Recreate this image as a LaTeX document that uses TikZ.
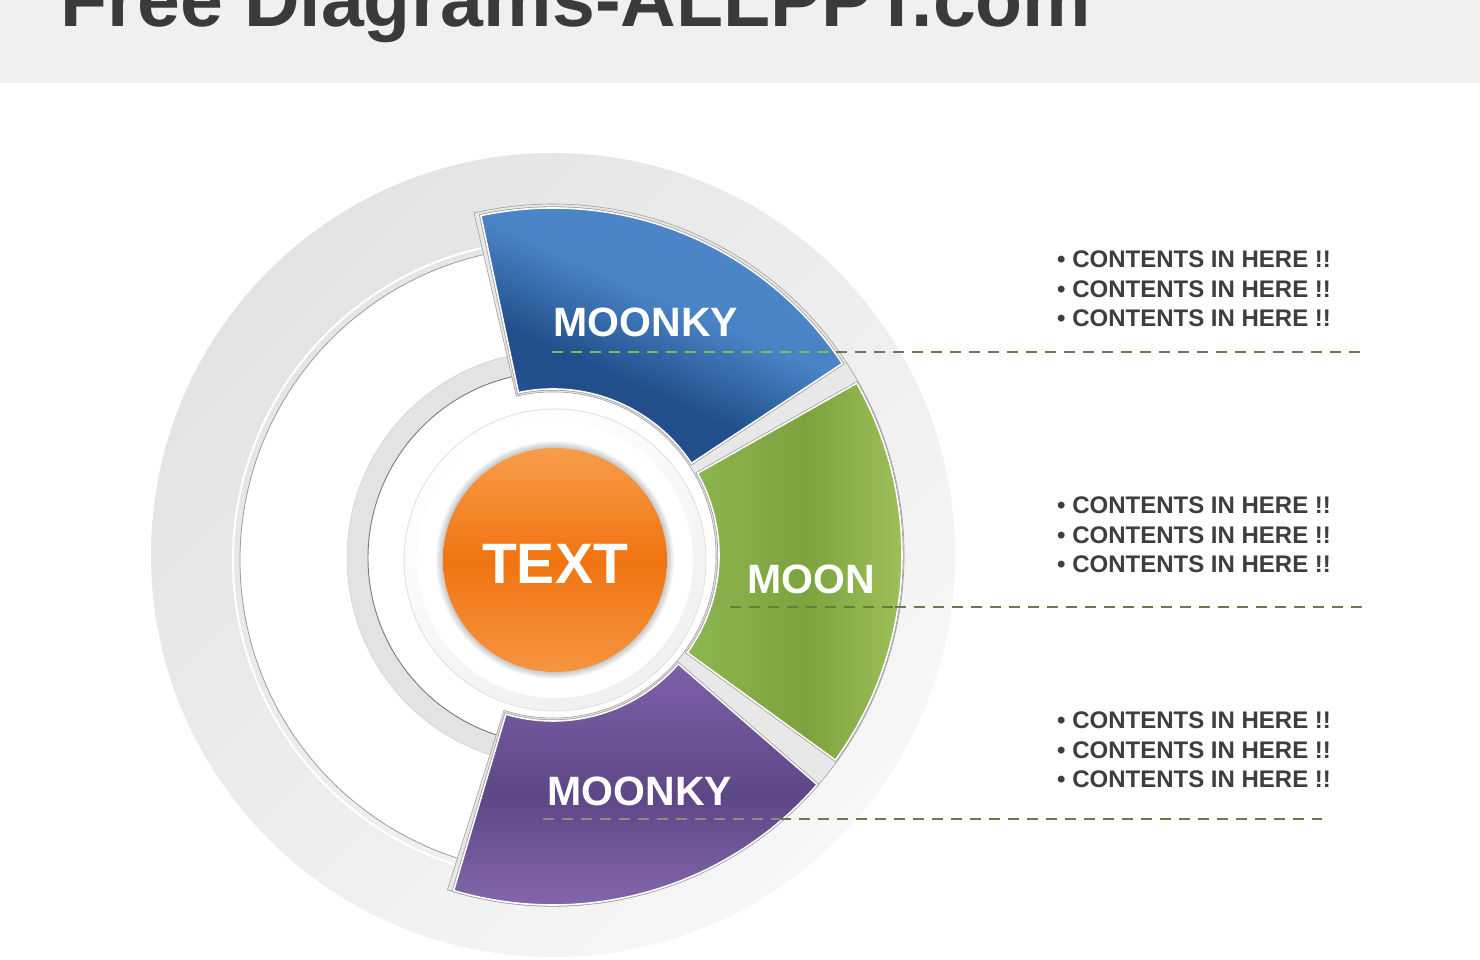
\documentclass[tikz,border=0pt]{standalone}
\usepackage{fontspec}
\setmainfont{Liberation Sans}
\definecolor{hdr}{HTML}{F0F0F0}
\definecolor{titlegray}{HTML}{3A3A3A}
\definecolor{discA}{HTML}{E3E3E3}
\definecolor{discB}{HTML}{F7F7F7}
\definecolor{ringline}{HTML}{9C9C9C}
\definecolor{ringgray}{HTML}{E3E3E3}
\definecolor{darkline}{HTML}{7A7A7A}
\definecolor{gapgray}{HTML}{E8E8E8}
\definecolor{segout}{HTML}{A0A0A0}
\definecolor{blueA}{HTML}{4F89C9}
\definecolor{blueAA}{HTML}{4A84C6}
\definecolor{blueB}{HTML}{224F8C}
\definecolor{blueC}{HTML}{3D74BA}
\definecolor{greenA}{HTML}{8DB650}
\definecolor{greenB}{HTML}{7DA23E}
\definecolor{greenC}{HTML}{A4C65E}
\definecolor{purpA}{HTML}{7C60A9}
\definecolor{purpB}{HTML}{5E4786}
\definecolor{purpC}{HTML}{8A6EB3}
\definecolor{orA}{HTML}{F89D4B}
\definecolor{orB}{HTML}{F07411}
\definecolor{orC}{HTML}{F59540}
\definecolor{txtgray}{HTML}{3E3E3E}
\definecolor{leadout}{HTML}{6F7650}
\definecolor{leadblue}{HTML}{7FBA5A}
\definecolor{leadgreen}{HTML}{5F8236}
\definecolor{leadpurp}{HTML}{8D8C7C}
\pgfdeclareverticalshading{bluesh}{100bp}{color(0bp)=(blueC); color(20bp)=(blueC); color(32bp)=(blueB); color(39bp)=(blueB); color(54bp)=(blueAA); color(100bp)=(blueA)}
\newcommand\annsec[4]{([shift={(#1:#3)}]C) -- ([shift={(#1:#4)}]C) arc[start angle=#1, end angle=#2, radius=#4] -- ([shift={(#2:#3)}]C) arc[start angle=#2, end angle=#1, radius=#3] -- cycle}
\begin{document}
\begin{tikzpicture}[x=1pt,y=1pt,
  seglabel/.style={font=\fontsize{41}{41}\selectfont\bfseries, text=white, inner sep=0},
  txtblock/.style={font=\fontsize{24}{29.3}\selectfont\bfseries, text=txtgray, align=left, inner sep=0, anchor=west},
  lead/.style={line width=2, dash pattern=on 11pt off 8pt},
  segborder/.style={draw=segout, line width=3.2},
  segfill/.style={draw=white, line width=1.6}]
\useasboundingbox (0,0) rectangle (1480,960);
\clip (0,0) rectangle (1480,960);
\fill[white] (0,0) rectangle (1480,960);
% header
\fill[hdr] (0,877) rectangle (1480,960);
\node[anchor=base west, font=\fontsize{77}{80}\selectfont\bfseries, text=titlegray, inner sep=0] (title) at (60,933) {Free Diagrams-ALLPPT.com};

\coordinate (C) at (553,405);
\coordinate (Ci) at (553,400);
\coordinate (Cr) at (554,402);
\coordinate (Co) at (555,400);

% outer disc
\shade[top color=discA, bottom color=discB, shading angle=45] (C) circle (402);
% white interior
\draw[white, line width=2] (Ci) circle (320);
\filldraw[fill=white, draw=ringline, line width=0.8] (Ci) circle (313);
% grey ring
\fill[ringgray] (Cr) circle (207);
\draw[ringgray!80!gray, line width=0.5] (Cr) circle (207);
\fill[white] (Cr) circle (186);
\draw[darkline, line width=0.9] (Cr) circle (186);

% backing for segments
\filldraw[fill=gapgray, draw=segout, line width=0.6] \annsec{-107.5}{103}{163}{351};

% blue
\draw[segborder] \annsec{33.5}{102}{166}{347};
\shadedraw[segfill, shading=bluesh, shading angle=-24] \annsec{33.5}{102}{166}{347};
% green
\draw[segborder] \annsec{-36}{29.5}{166}{349};
\shadedraw[segfill, left color=greenA, right color=greenC, middle color=greenB] \annsec{-36}{29.5}{166}{349};
% purple
\draw[segborder] \annsec{-106.5}{-41}{166}{350};
\shadedraw[segfill, top color=purpA, bottom color=purpC, middle color=purpB] \annsec{-106.5}{-41}{166}{350};

% bevel around centre
\shade[top color=white, bottom color=white!88!gray, shading angle=30] (Co) circle (151);
\draw[white!78!gray, line width=1] (Co) circle (151);
\fill[white] (Co) circle (138);
\foreach \i in {1,...,7} {\fill[black, opacity=0.03] (Co) circle (112+\i);}
\shade[top color=orA, bottom color=orC, middle color=orB] (Co) circle (112);

% labels
\node[seglabel] (blue) at (646,638) {MOONKY};
\node[seglabel] (green) at (811,381) {MOON};
\node[seglabel] (purple) at (640,169) {MOONKY};
\node[font=\fontsize{57}{57}\selectfont\bfseries, text=white, inner sep=0] (centre) at (555,396) {TEXT};

% leader lines
\coordinate (l1a) at (552,608); \coordinate (l1b) at (836,608); \coordinate (l1c) at (1360,608);
\coordinate (l2a) at (730,353); \coordinate (l2b) at (895,353); \coordinate (l2c) at (1368,353);
\coordinate (l3a) at (543,141); \coordinate (l3b) at (780,141); \coordinate (l3c) at (1322,141);
\draw[lead, leadblue] (l1a) -- (l1b);
\draw[lead, leadout] (l1b) -- (l1c);
\draw[lead, leadgreen] (l2a) -- (l2b);
\draw[lead, leadout] (l2b) -- (l2c);
\draw[lead, leadpurp] (l3a) -- (l3b);
\draw[lead, leadout] (l3b) -- (l3c);

% text blocks
\node[txtblock] (t1) at (1057,671) {• CONTENTS IN HERE !!\\• CONTENTS IN HERE !!\\• CONTENTS IN HERE !!};
\node[txtblock] (t2) at (1057,425) {• CONTENTS IN HERE !!\\• CONTENTS IN HERE !!\\• CONTENTS IN HERE !!};
\node[txtblock] (t3) at (1057,210) {• CONTENTS IN HERE !!\\• CONTENTS IN HERE !!\\• CONTENTS IN HERE !!};
\end{tikzpicture}
\end{document}
